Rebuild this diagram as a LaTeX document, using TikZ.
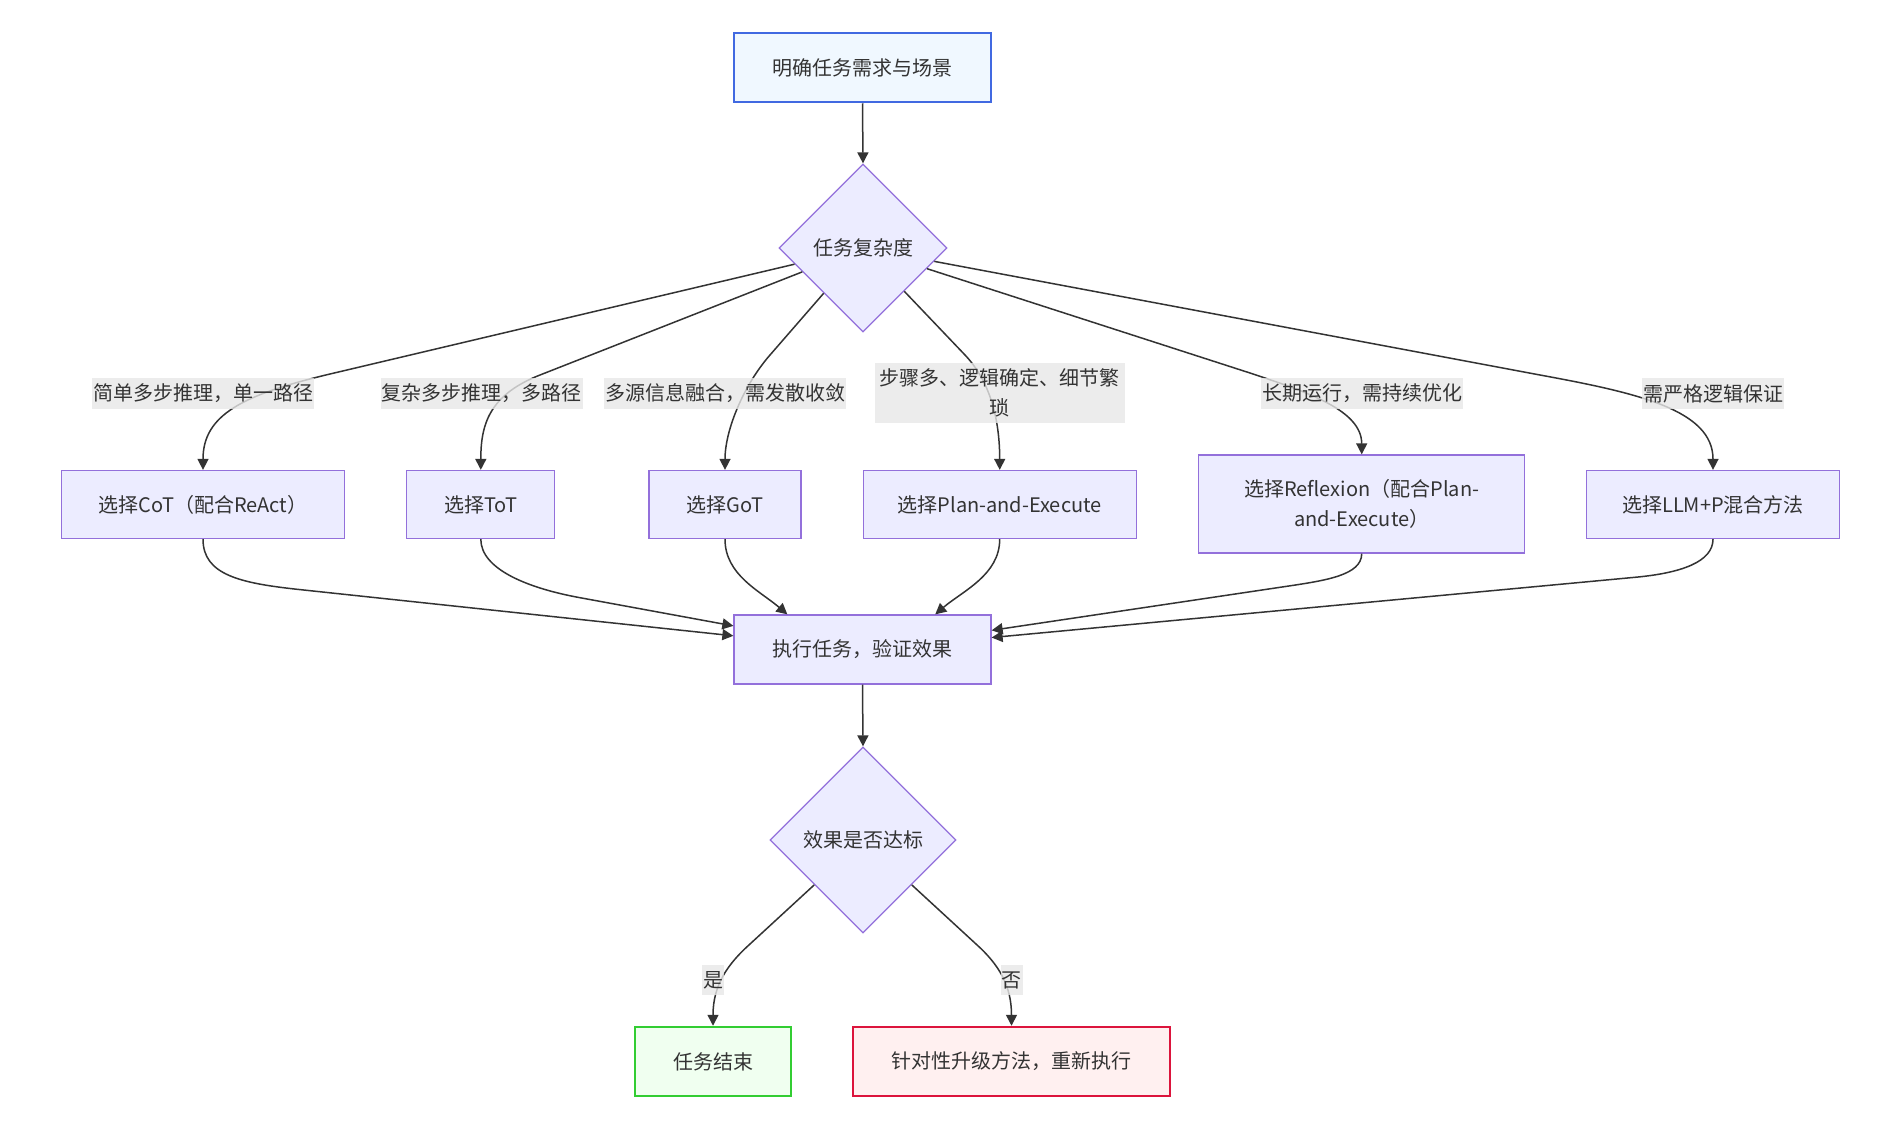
\documentclass[tikz,border=0pt]{standalone}
\usepackage{fontspec}
\setmainfont{Noto Sans CJK SC}
\usetikzlibrary{shapes.geometric,arrows.meta,calc}
\definecolor{mmfill}{HTML}{ECECFF}
\definecolor{mmstroke}{HTML}{9370DB}
\definecolor{mmtext}{HTML}{333333}
\definecolor{mmline}{HTML}{333333}
\definecolor{lblbg}{HTML}{E8E8E8}
\definecolor{bluefill}{HTML}{F0F8FF}
\definecolor{bluestroke}{HTML}{4169E1}
\definecolor{greenfill}{HTML}{F0FFF0}
\definecolor{greenstroke}{HTML}{32CD32}
\definecolor{redfill}{HTML}{FFF0F0}
\definecolor{redstroke}{HTML}{DC143C}
\begin{document}
\begin{tikzpicture}[x=1pt,y=-1pt,
  txt/.style={font=\fontsize{20}{30}\selectfont, text=mmtext},
  proc/.style={txt, rectangle, draw=mmstroke, fill=mmfill, line width=1.3pt, inner sep=0pt, minimum height=68pt, align=center},
  decision/.style={txt, diamond, aspect=1, draw=mmstroke, fill=mmfill, line width=1.3pt, inner sep=0pt},
  startbox/.style={proc, draw=bluestroke, fill=bluefill, line width=2.5pt},
  okbox/.style={proc, draw=greenstroke, fill=greenfill, line width=2.5pt},
  failbox/.style={proc, draw=redstroke, fill=redfill, line width=2.5pt},
  elabel/.style={txt, fill=lblbg, fill opacity=0.8, text opacity=1, inner xsep=1pt, inner ysep=0pt, minimum height=31pt, align=center},
  link/.style={draw=mmline, line width=1.5pt, -{Triangle[length=11pt,width=11pt]}},
]
\fill[white] (0,0) rectangle (1878,1128);
\useasboundingbox (0,0) rectangle (1878,1128);

% nodes
\node[startbox, minimum width=257pt, minimum height=69pt] (top) at (862.5,67.5) {明确任务需求与场景};
\node[decision, minimum size=168pt] (d1) at (863,248) {任务复杂度};

\node[proc, minimum width=283pt] (cot) at (203,504.5) {选择CoT（配合ReAct）};
\node[proc, minimum width=148pt] (tot) at (480.8,504.5) {选择ToT};
\node[proc, minimum width=152pt] (got) at (725,504.5) {选择GoT};
\node[proc, minimum width=273pt] (plan) at (999.7,504.5) {选择Plan-and-Execute};
\node[proc, minimum width=326pt, minimum height=98pt] (refl) at (1361.7,504) {选择Reflexion（配合Plan-\\and-Execute）};
\node[proc, minimum width=253pt] (llm) at (1713,504.5) {选择LLM+P混合方法};

\node[proc, minimum width=257pt, minimum height=69pt] (exec) at (862.5,649.5) {执行任务，验证效果};
\node[decision, minimum size=186pt] (d2) at (863,840) {效果是否达标};

\node[okbox, minimum width=156pt, minimum height=69pt] (ok) at (713,1061.5) {任务结束};
\node[failbox, minimum width=317pt, minimum height=69pt] (fail) at (1011.5,1061.5) {针对性升级方法，重新执行};

% edges
\draw[link] (top.south) -- (d1.north);

\draw[link] (d1) -- (330,374) .. controls (242.4,394.7) and (203,415) .. (cot.north);
\draw[link] (d1) -- (540,375) .. controls (488.8,395) and (480.8,425) .. (tot.north);
\draw[link] (d1) -- (770,355) .. controls (743.7,385) and (725,430) .. (got.north);
\draw[link] (d1) -- (965,355) .. controls (992.6,384) and (999.7,425) .. (plan.north);
\draw[link] (d1) -- (1250,373) .. controls (1307,392) and (1361.7,410) .. (refl.north);
\draw[link] (d1) -- (1540,375) .. controls (1638,393) and (1713,410) .. (llm.north);

\draw[link] (cot.south) .. controls (203,575) and (240.3,583.2) .. (300,589.6) -- (exec);
\draw[link] (tot.south) .. controls (480.8,570) and (530.3,588.6) .. (579.5,597.6) -- (exec);
\draw[link] (got.south) .. controls (725,575) and (760,591) .. ($(exec.north west)+(54,0)$);
\draw[link] (plan.south) .. controls (999.7,575) and (962.6,591) .. ($(exec.north east)+(-56.4,0)$);
\draw[link] (refl.south) .. controls (1361.7,575) and (1326.3,580.4) .. (1286.7,586.3) -- (exec);
\draw[link] (llm.south) .. controls (1713,562) and (1680.7,573) .. (1635.9,577.2) -- (exec);

\draw[link] (exec.south) -- (d2.north);
\draw[link] (d2) -- (750,944) .. controls (727.7,964) and (713,985) .. (ok.north);
\draw[link] (d2) -- (976,944) .. controls (998.3,964) and (1011.5,985) .. (fail.north);

% edge labels
\node[elabel] (l1) at (203.4,393.5) {简单多步推理，单一路径};
\node[elabel] (l2) at (481.5,393.5) {复杂多步推理，多路径};
\node[elabel] (l3) at (725,393.5) {多源信息融合，需发散收敛};
\node[elabel, minimum height=60pt, inner xsep=5pt] (l4) at (999.5,393) {步骤多、逻辑确定、细节繁\\琐};
\node[elabel] (l5) at (1362,393.5) {长期运行，需持续优化};
\node[elabel] (l6) at (1713,393.5) {需严格逻辑保证};
\node[elabel, minimum height=30pt] (lyes) at (713,980) {是};
\node[elabel, minimum height=30pt] (lno) at (1011.5,980) {否};
\end{tikzpicture}
\end{document}
